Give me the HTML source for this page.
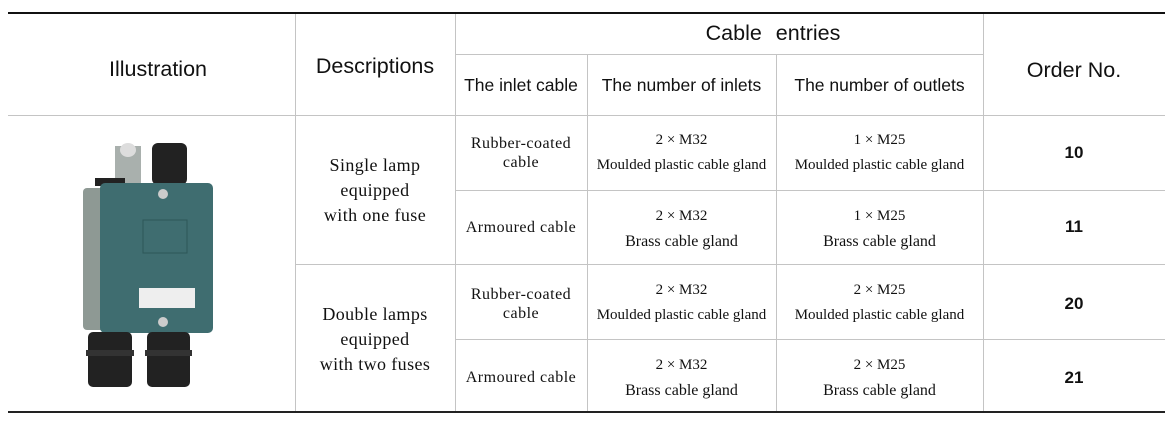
<!DOCTYPE html>
<html><head><meta charset="utf-8"><style>
body{margin:0;width:1170px;height:425px;background:#fff;position:relative;overflow:hidden;font-family:"Liberation Sans",sans-serif;color:#111}
.h{position:absolute;background:#c4c4c4;height:1px}
.v{position:absolute;background:#c4c4c4;width:1px}
.t{position:absolute;text-align:center;white-space:nowrap}
.hd{font-size:21.5px}
.sh{font-size:17.5px}
.c{font-family:"Liberation Serif",serif;font-size:15px;line-height:25px}
.r{font-family:"Liberation Serif",serif;font-size:16px;line-height:19px;letter-spacing:.5px}
.d{font-family:"Liberation Serif",serif;font-size:18px;line-height:25px;letter-spacing:.4px}
.o{font-weight:bold;font-size:17px}
</style></head><body>
<div style="position:absolute;left:8px;top:12px;width:1157px;height:2px;background:#111"></div>
<div style="position:absolute;left:8px;top:411px;width:1157px;height:2px;background:#222"></div>
<div class="h" style="left:455px;top:54px;width:528px"></div>
<div class="h" style="left:8px;top:115px;width:1157px"></div>
<div class="h" style="left:455px;top:190px;width:710px"></div>
<div class="h" style="left:295px;top:264px;width:870px"></div>
<div class="h" style="left:455px;top:339px;width:710px"></div>
<div class="v" style="left:295px;top:14px;height:397px"></div>
<div class="v" style="left:455px;top:14px;height:397px"></div>
<div class="v" style="left:587px;top:54px;height:357px"></div>
<div class="v" style="left:776px;top:54px;height:357px"></div>
<div class="v" style="left:983px;top:14px;height:397px"></div>

<div class="t hd" style="left:8px;width:300px;top:57px">Illustration</div>
<div class="t hd" style="left:295px;width:160px;top:54px">Descriptions</div>
<div class="t hd" style="left:455px;width:636px;top:21px;word-spacing:8px">Cable entries</div>
<div class="t hd" style="left:983px;width:182px;top:58px">Order No.</div>
<div class="t sh" style="left:455px;width:132px;top:75px">The inlet cable</div>
<div class="t sh" style="left:587px;width:189px;top:75px">The number of inlets</div>
<div class="t sh" style="left:776px;width:207px;top:75px">The number of outlets</div>

<div class="t d" style="left:295px;width:160px;top:153px">Single lamp<br>equipped<br>with one fuse</div>
<div class="t d" style="left:295px;width:160px;top:302px">Double lamps<br>equipped<br>with two fuses</div>

<div class="t r" style="left:455px;width:132px;top:134px">Rubber-coated<br>cable</div>
<div class="t r" style="left:455px;width:132px;top:218px">Armoured cable</div>
<div class="t r" style="left:455px;width:132px;top:285px">Rubber-coated<br>cable</div>
<div class="t r" style="left:455px;width:132px;top:368px">Armoured cable</div>

<div class="t c" style="left:587px;width:189px;top:128px">2 × M32<br>Moulded plastic cable gland</div>
<div class="t c" style="left:776px;width:207px;top:128px">1 × M25<br>Moulded plastic cable gland</div>
<div class="t c" style="left:587px;width:189px;top:204px">2 × M32<br><span style="font-size:16px">Brass cable gland</span></div>
<div class="t c" style="left:776px;width:207px;top:204px">1 × M25<br><span style="font-size:16px">Brass cable gland</span></div>
<div class="t c" style="left:587px;width:189px;top:278px">2 × M32<br>Moulded plastic cable gland</div>
<div class="t c" style="left:776px;width:207px;top:278px">2 × M25<br>Moulded plastic cable gland</div>
<div class="t c" style="left:587px;width:189px;top:353px">2 × M32<br><span style="font-size:16px">Brass cable gland</span></div>
<div class="t c" style="left:776px;width:207px;top:353px">2 × M25<br><span style="font-size:16px">Brass cable gland</span></div>

<div class="t o" style="left:983px;width:182px;top:143px">10</div>
<div class="t o" style="left:983px;width:182px;top:217px">11</div>
<div class="t o" style="left:983px;width:182px;top:294px">20</div>
<div class="t o" style="left:983px;width:182px;top:368px">21</div>

<svg style="position:absolute;left:0;top:0" width="300" height="425">
<rect x="115" y="146" width="26" height="38" fill="#a9b0ad"/>
<ellipse cx="128" cy="150" rx="8" ry="7" fill="#ddd"/>
<rect x="152" y="143" width="35" height="42" rx="6" fill="#222"/>
<rect x="95" y="178" width="30" height="8" fill="#222"/>
<rect x="83" y="188" width="22" height="142" rx="4" fill="#8e9994"/>
<rect x="100" y="183" width="113" height="150" rx="5" fill="#3f6d70"/>
<rect x="143" y="220" width="44" height="33" fill="none" stroke="#2d5658" stroke-width="1"/>
<circle cx="163" cy="194" r="5" fill="#ccc"/>
<circle cx="163" cy="322" r="5" fill="#ccc"/>
<rect x="139" y="288" width="56" height="20" fill="#eee"/>
<rect x="88" y="332" width="44" height="55" rx="5" fill="#222"/>
<rect x="147" y="332" width="43" height="55" rx="5" fill="#222"/>
<rect x="86" y="350" width="48" height="6" fill="#333"/>
<rect x="145" y="350" width="47" height="6" fill="#333"/>
</svg>
</body></html>
